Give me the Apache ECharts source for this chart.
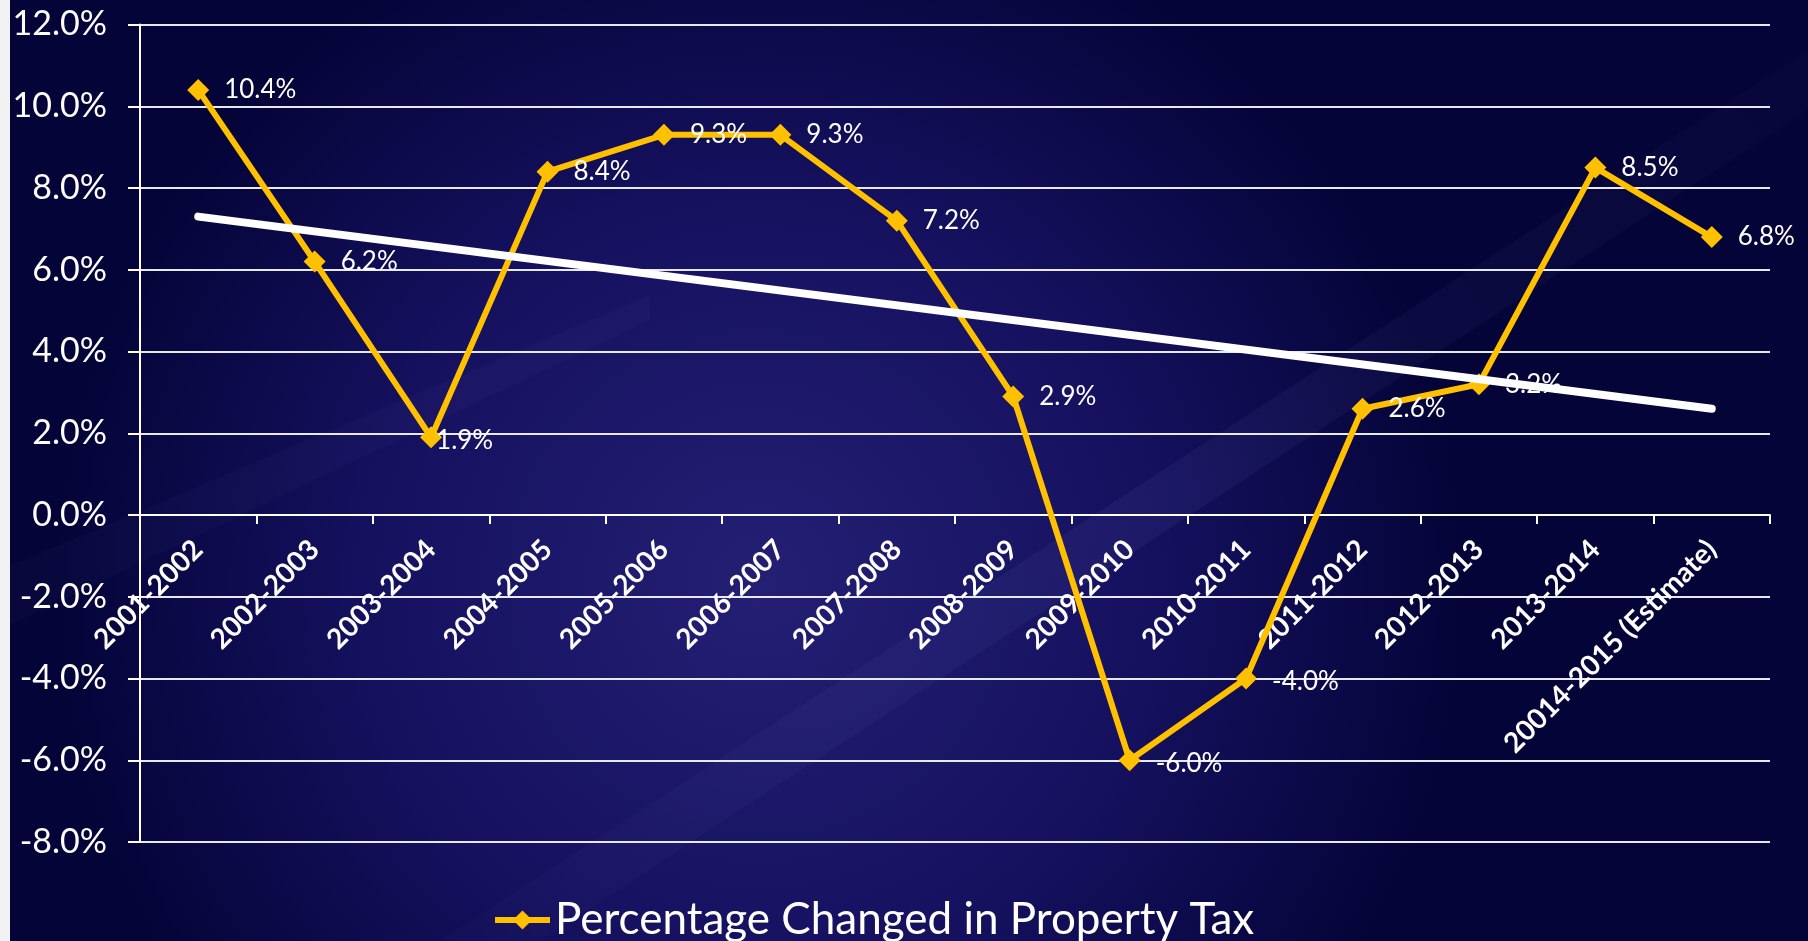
<!DOCTYPE html>
<html>
<head>
<meta charset="utf-8">
<title>Percentage Changed in Property Tax</title>
<script src="https://cdn.jsdelivr.net/npm/echarts@6/dist/echarts.min.js"></script>
<style>
  html, body { margin: 0; padding: 0; background: #0a0848; }
  #chart { width: 1808px; height: 941px; }
</style>
</head>
<body>
<div id="chart"></div>
<script>
// categories on the x axis
const years = [
  "2001-2002", "2002-2003", "2003-2004", "2004-2005", "2005-2006",
  "2006-2007", "2007-2008", "2008-2009", "2009-2010", "2010-2011",
  "2011-2012", "2012-2013", "2013-2014", "20014-2015 (Estimate)"
];
// percentage change per year
const taxChange = [10.4, 6.2, 1.9, 8.4, 9.3, 9.3, 7.2, 2.9, -6.0, -4.0, 2.6, 3.2, 8.5, 6.8];
// white trend line at first and last year
const trendStart = 7.3;
const trendEnd = 2.6;
// y axis ticks
const yMin = -8;
const yMax = 12;
const yStep = 2;

const gold = "#ffc000";
const font = "Lato";

const gridTop = 24.5;
const gridBottom = 99;
const chartH = 941;

const chart = echarts.init(document.getElementById("chart"));

// trend data: only the two ends, nulls between
const trend = years.map((y, i) =>
  i === 0 ? trendStart : i === years.length - 1 ? trendEnd : null
);

// the 1.9% label sits almost on top of its marker in the original,
// negative labels sit a bit low so the minus clears the grid line
const taxData = taxChange.map((v, i) => {
  if (i === 2) return { value: v, label: { distance: -6, offset: [0, 3] } };
  if (v < 0) return { value: v, label: { offset: [0, 3] } };
  return v;
});

// the category axis (line, ticks and labels) sits on the 0% line,
// so lift it from the bottom of the grid by the height of the negative part
const plotH = chartH - gridTop - gridBottom;
const zeroLift = plotH * (0 - yMin) / (yMax - yMin);

const option = {
  animation: false,
  backgroundColor: {
    type: "radial",
    x: 0.42,
    y: 0.62,
    r: 0.75,
    colorStops: [
      { offset: 0, color: "#241f73" },
      { offset: 0.55, color: "#15115f" },
      { offset: 1, color: "#040438" }
    ]
  },
  graphic: [
    // faint diagonal streaks across the slide
    {
      type: "polygon",
      silent: true,
      z: -10,
      shape: { points: [[440, 941], [540, 941], [1808, 110], [1808, 50]] },
      style: {
        fill: {
          type: "linear", x: 0, y: 1, x2: 1, y2: 0,
          colorStops: [
            { offset: 0, color: "rgba(130,130,210,0.02)" },
            { offset: 0.5, color: "rgba(130,130,210,0.08)" },
            { offset: 1, color: "rgba(130,130,210,0.02)" }
          ]
        }
      }
    },
    {
      type: "polygon",
      silent: true,
      z: -10,
      shape: { points: [[0, 570], [0, 630], [650, 320], [650, 295]] },
      style: { fill: "rgba(130,130,210,0.04)" }
    },
    // white strip on the left edge
    {
      type: "rect",
      silent: true,
      z: -5,
      shape: { x: 0, y: 0, width: 10, height: 941 },
      style: { fill: "#f2f2f2" }
    }
  ],
  grid: {
    left: 140,
    right: 38,
    top: gridTop,
    bottom: gridBottom,
    containLabel: false,
    outerBoundsMode: "none"
  },
  legend: {
    data: ["Percentage Changed in Property Tax"],
    left: 487,
    top: 893,
    itemWidth: 55,
    itemHeight: 24,
    lineStyle: { width: 6 },
    textStyle: { color: "#ffffff", fontFamily: font, fontSize: 44 }
  },
  xAxis: {
    type: "category",
    data: years,
    boundaryGap: true,
    offset: -zeroLift,
    axisLine: { onZero: false, lineStyle: { color: "#ffffff", width: 2 } },
    axisTick: { show: true, length: 9, lineStyle: { color: "#ffffff", width: 2 } },
    axisLabel: {
      interval: 0,
      rotate: 45,
      margin: 30,
      color: "#ffffff",
      fontFamily: font,
      fontWeight: "bold",
      fontSize: 28
    },
    splitLine: { show: false }
  },
  yAxis: {
    type: "value",
    min: yMin,
    max: yMax,
    interval: yStep,
    axisLine: { show: true, lineStyle: { color: "#ffffff", width: 2 } },
    axisTick: { show: true, length: 12, lineStyle: { color: "#ffffff", width: 2 } },
    axisLabel: {
      margin: 33,
      color: "#ffffff",
      fontFamily: font,
      fontSize: 34,
      formatter: (v) => v.toFixed(1) + "%"
    },
    splitLine: { show: true, lineStyle: { color: "#e8e8f0", width: 2 } }
  },
  series: [
    {
      name: "Percentage Changed in Property Tax",
      type: "line",
      z: 2,
      data: taxData,
      symbol: "diamond",
      symbolSize: 22,
      itemStyle: { color: gold },
      lineStyle: { color: gold, width: 6 },
      label: {
        show: true,
        position: "right",
        distance: 15,
        color: "#ffffff",
        fontFamily: font,
        fontSize: 26,
        formatter: (p) => p.value.toFixed(1) + "%"
      }
    },
    {
      name: "Trend",
      type: "line",
      z: 5,
      data: trend,
      connectNulls: true,
      symbol: "none",
      silent: true,
      lineStyle: { color: "#ffffff", width: 8, cap: "round" }
    }
  ]
};

chart.setOption(option);
</script>
</body>
</html>
